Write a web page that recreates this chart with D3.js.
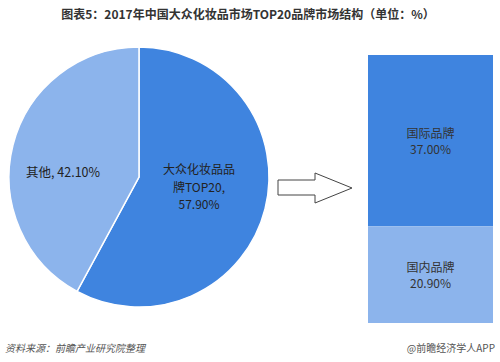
<!DOCTYPE html>
<html>
<head>
<meta charset="utf-8">
<script src="https://cdn.jsdelivr.net/npm/d3@7"></script>
<style>
  body { margin: 0; background: #fff; }
  svg { display: block; font-family: "Microsoft YaHei", "Noto Sans CJK SC", sans-serif; }
</style>
</head>
<body>
<div id="grafic"></div>
<script>
// dades del pastís
var pastísNoms = ['大众化妆品品牌TOP20', '其他'];
var pastísValors = [57.9, 42.1];
// dades de la barra apilada
var barraNoms = ['国际品牌', '国内品牌'];
var barraValors = [37.0, 20.9];

var Amplada = 500, Alçada = 362;
var fosc = '#3f84df', clar = '#8cb4ec';

var llenç = d3.select('#grafic')
	.append('svg')
		.attr('width', Amplada)
		.attr('height', Alçada);

llenç.append('text')
	.attr('x', 248)
	.attr('y', 19)
	.attr('text-anchor', 'middle')
	.attr('font-size', 12)
	.attr('font-weight', 'bold')
	.attr('fill', '#333')
	.text('图表5：2017年中国大众化妆品市场TOP20品牌市场结构（单位：%）');

// pastís
var centre = {x: 139, y: 177}, radi = 130;
var pastís = d3.pie().sort(null).value(d => d.v);
var arc = d3.arc().innerRadius(0).outerRadius(radi);
var porcions = pastís(pastísNoms.map((n, i) => ({n: n, v: pastísValors[i]})));

var gP = llenç.append('g')
	.attr('transform', `translate(${centre.x},${centre.y})`);

gP.selectAll('path')
	.data(porcions)
	.enter()
	.append('path')
		.attr('d', arc)
		.attr('fill', (d, i) => i === 0 ? fosc : clar)
		.attr('stroke', '#fff')
		.attr('stroke-width', 1.5);

// etiqueta partida en tres línies
var etiq1 = ['大众化妆品品', '牌TOP20,', d3.format('.2f')(pastísValors[0]) + '%'];
gP.append('text')
	.attr('text-anchor', 'middle')
	.attr('font-size', 12)
	.attr('fill', '#222')
	.selectAll('tspan')
	.data(etiq1)
	.enter()
	.append('tspan')
		.attr('x', 60)
		.attr('y', (d, i) => -3 + i * 17.5)
		.text(d => d);

gP.append('text')
	.attr('x', -76)
	.attr('y', 0)
	.attr('text-anchor', 'middle')
	.attr('font-size', 12.5)
	.attr('fill', '#222')
	.text(pastísNoms[1] + ', ' + d3.format('.2f')(pastísValors[1]) + '%');

// fletxa
var fletxa = [[278, 180], [315, 180], [315, 173], [352, 188], [315, 203], [315, 195], [278, 195]];
llenç.append('path')
	.attr('d', d3.line()(fletxa) + 'Z')
	.attr('fill', '#fff')
	.attr('stroke', '#444')
	.attr('stroke-width', 1);

// barra apilada
var total = d3.sum(barraValors);
var escY = d3.scaleLinear().domain([0, total]).range([323, 55]);
var apilat = [];
var acum = total;
barraValors.forEach(function (v, i) {
	apilat.push({n: barraNoms[i], v: v, dalt: acum, baix: acum - v});
	acum -= v;
});

var barX = 368, barAmp = 125;
var gB = llenç.append('g');
gB.selectAll('rect')
	.data(apilat)
	.enter()
	.append('rect')
		.attr('x', barX)
		.attr('y', d => escY(d.dalt))
		.attr('width', barAmp)
		.attr('height', d => escY(d.baix) - escY(d.dalt))
		.attr('fill', (d, i) => i === 0 ? fosc : clar);

gB.selectAll('text')
	.data(apilat)
	.enter()
	.append('text')
		.attr('text-anchor', 'middle')
		.attr('font-size', 12)
		.attr('fill', '#333')
		.each(function (d) {
			var mig = (escY(d.dalt) + escY(d.baix)) / 2;
			var t = d3.select(this);
			t.append('tspan').attr('x', barX + barAmp / 2).attr('y', mig - 3).text(d.n);
			t.append('tspan').attr('x', barX + barAmp / 2).attr('y', mig + 13).text(d3.format('.2f')(d.v) + '%');
		});

// peu
llenç.append('text')
	.attr('x', 5)
	.attr('y', 352)
	.attr('font-size', 10)
	.attr('font-style', 'italic')
	.attr('fill', '#555')
	.text('资料来源：前瞻产业研究院整理');

llenç.append('text')
	.attr('x', 495)
	.attr('y', 352)
	.attr('text-anchor', 'end')
	.attr('font-size', 10)
	.attr('fill', '#555')
	.text('@前瞻经济学人APP');
</script>
</body>
</html>
